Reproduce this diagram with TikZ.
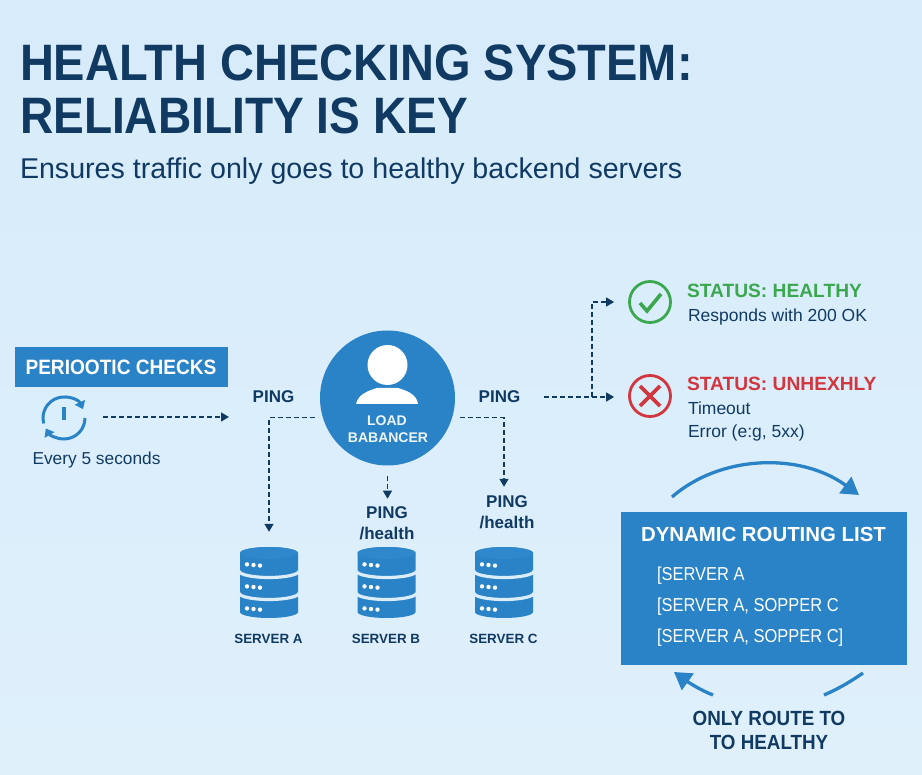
\documentclass[tikz,border=0pt]{standalone}
\usepackage{fontspec}
\setmainfont{Liberation Sans}
\newfontfamily\condA{Liberation Sans}[FakeStretch=0.918]
\newfontfamily\condB{Liberation Sans}[FakeStretch=0.88]
\newfontfamily\condC{Liberation Sans}[FakeStretch=0.9]
\usetikzlibrary{arrows.meta,calc,shapes.geometric}
\definecolor{navy}{HTML}{113A63}
\definecolor{brandblue}{HTML}{2A83C6}
\definecolor{disktop}{HTML}{2F88CB}
\definecolor{bgtop}{HTML}{D7EBFA}
\definecolor{bgmid}{HTML}{DBEDFA}
\definecolor{bgbot}{HTML}{DFF0FB}
\definecolor{okgreen}{HTML}{3BA850}
\definecolor{badred}{HTML}{D2363E}
\newcommand{\fs}[1]{\fontsize{#1}{#1}\selectfont}
\tikzset{
  x=1pt,y=-1pt,
  dashline/.style={draw=navy,line width=1.35pt,dash pattern=on 5pt off 3pt,-{Triangle[length=8pt,width=9pt]}},
  flow/.style={draw=brandblue,line width=3.3pt,line cap=butt},
  flowtip/.style={flow,-{Triangle[length=17pt,width=20pt]}},
  clockarc/.style={draw=brandblue,line width=3pt,-{Triangle[length=7.5pt,width=11pt]}},
  txt/.style={inner sep=0pt,outer sep=0pt,anchor=base west},
  ctxt/.style={inner sep=0pt,outer sep=0pt,anchor=base,align=center},
  srvbox/.style={minimum width=58pt,minimum height=72pt,inner sep=0pt},
  pinglabel/.style={ctxt,text=navy,font=\bfseries\fs{17}},
  srvlabel/.style={ctxt,text=navy,font=\bfseries\fs{13.4}},
  listline/.style={txt,text=white,font=\condB\fs{18.7}},
  status/.style={txt,font=\bfseries\fs{19.2}},
  detail/.style={txt,text=navy,font=\fs{17.5}},
  titletext/.style={txt,text=navy,font=\condA\bfseries\fs{51.2}},
  lbtext/.style={ctxt,text=white!92!brandblue,font=\bfseries\fs{14}},
  onlytext/.style={ctxt,text=navy,font=\condA\bfseries\fs{20.5}}
}
\newcommand{\serverstack}[1]{%
  \begin{scope}[shift={(#1.center)}]
    \fill[brandblue] (-29,-30) -- (-29,29) arc[x radius=29,y radius=6,start angle=180,end angle=0] -- (29,-30) arc[x radius=29,y radius=6,start angle=0,end angle=-180] -- cycle;
    \fill[disktop] (0,-30) ellipse[x radius=29,y radius=6];
    \foreach \ee in {-12,10}{%
      \draw[bgmid,line width=3.2pt] (-30,\ee) arc[x radius=30,y radius=6.5,start angle=180,end angle=0];}
    \foreach \ry in {-18,4,26}{%
      \fill[white] (-22,\ry-0.6) circle[radius=2.2] (-15.5,\ry) circle[radius=2.2] (-9,\ry+0.6) circle[radius=2.2];}
  \end{scope}%
}
\begin{document}
\begin{tikzpicture}
\useasboundingbox (0,0) rectangle (922,775);
\shade[top color=bgtop,bottom color=bgbot] (0,0) rectangle (922,775);

% Title
\node[titletext] (t1) at (20,80.5) {HEALTH CHECKING SYSTEM:};
\node[titletext,font=\condC\bfseries\fs{51.2}] (t2) at (20,134) {RELIABILITY IS KEY};
\node[txt,text=navy,font=\fs{28.6}] (sub) at (20,179) {Ensures traffic only goes to healthy backend servers};

% Periodic checks
\node[fill=brandblue,minimum width=213pt,minimum height=40pt,inner sep=0pt] (pc) at (121.5,367) {};
\node[ctxt,text=white,font=\condA\bfseries\fs{20.8}] (pct) at (121,374.5) {PERIOOTIC CHECKS};
\node[minimum size=42pt,inner sep=0pt,circle] (clock) at (64,418) {};
\draw[clockarc] ($(clock.center)+(165:21)$) arc[radius=21,start angle=165,end angle=335];
\draw[clockarc] ($(clock.center)+(0:21)$) arc[radius=21,start angle=0,end angle=150];
\draw[brandblue,line width=3.4pt] ($(clock.center)+(0,-11)$) -- ($(clock.center)+(0,2)$);
\node[ctxt,text=navy,font=\fs{17.3}] (every) at (96.5,465) {Every 5 seconds};
\coordinate (clockend) at (229,417);
\draw[dashline] (103,417) -- (clockend);

% Load balancer
\node[circle,fill=brandblue,minimum size=135pt,inner sep=0pt] (lb) at (387.5,398) {};
\fill[white] (387.5,365) circle[radius=20];
\fill[white] (356,404) .. controls (358,394) and (370,390) .. (377,388) -- (398,388) .. controls (405,390) and (417,394) .. (418,404) -- cycle;
\node[lbtext] (lb1) at (387,426) {LOAD};
\node[lbtext] (lb2) at (388,442.5) {BABANCER};

% Ping labels
\node[pinglabel] (pingL) at (273.5,403) {PING};
\node[pinglabel] (pingR) at (499.5,403) {PING};
\node[pinglabel] (pingB1) at (387,519) {PING};
\node[pinglabel] (pingB2) at (387,540) {/health};
\node[pinglabel] (pingC1) at (507,508) {PING};
\node[pinglabel] (pingC2) at (507,529) {/health};

% Servers
\node[srvbox] (sa) at (269,583) {};
\node[srvbox] (sb) at (386.5,583) {};
\node[srvbox] (sc) at (504,583) {};
\serverstack{sa}\serverstack{sb}\serverstack{sc}
\node[srvlabel] (la) at (268.5,643) {SERVER A};
\node[srvlabel] (lb3) at (386,643) {SERVER B};
\node[srvlabel] (lc) at (503.5,643) {SERVER C};

% Dashed connectors
\draw[dashline,shorten <=8pt] (lb.197) -| ($(sa.north)+(0,-15)$);
\draw[dashline,shorten <=10pt] (lb.south) -- ($(lb.south)+(0,33)$);
\draw[dashline,shorten <=8pt] (lb.-17) -| ($(sc.north)+(0,-60)$);

% Status
\node[circle,draw=okgreen,line width=2.8pt,minimum size=41pt,inner sep=0pt] (ok) at (650,302) {};
\draw[okgreen,line width=3.6pt] (640,303) -- (647,311) -- (661,294);
\node[circle,draw=badred,line width=2.8pt,minimum size=41pt,inner sep=0pt] (bad) at (650,396) {};
\draw[badred,line width=3.8pt] (640,386) -- (660,406) (660,386) -- (640,406);
\node[status,text=okgreen] (st1) at (687,297.5) {STATUS: HEALTHY};
\node[detail] (d1) at (688,322) {Responds with 200 OK};
\node[status,text=badred] (st2) at (687,391) {STATUS: UNHEXHLY};
\node[detail] (d2) at (688,415) {Timeout};
\node[detail] (d3) at (688,438) {Error (e:g, 5xx)};
\coordinate (split) at (592,397);
\draw[dashline,shorten >=14pt] (544,397) -- (bad.west |- split);
\draw[dashline,shorten >=14pt] (split) |- (ok.west);

% Routing list
\node[fill=brandblue,minimum width=286pt,minimum height=153pt,inner sep=0pt] (rl) at (764,588.5) {};
\node[ctxt,text=white,font=\bfseries\fs{20.4}] (rt) at (763.5,542) {DYNAMIC ROUTING LIST};
\node[listline] (r1) at (657,581) {[SERVER A};
\node[listline] (r2) at (657,612) {[SERVER A, SOPPER C};
\node[listline] (r3) at (657,642) {[SERVER A, SOPPER C]};
\draw[flowtip] (672,497) .. controls (720,455) and (800,452) .. (859,495);
\draw[flow] (863,673) .. controls (850,682) and (838,689) .. (824,695);
\draw[flowtip] (713,695) .. controls (700,690) and (688,682) .. (674,672);
\node[onlytext] (o1) at (769,725) {ONLY ROUTE TO};
\node[onlytext] (o2) at (769,749) {TO HEALTHY};
\end{tikzpicture}
\end{document}
